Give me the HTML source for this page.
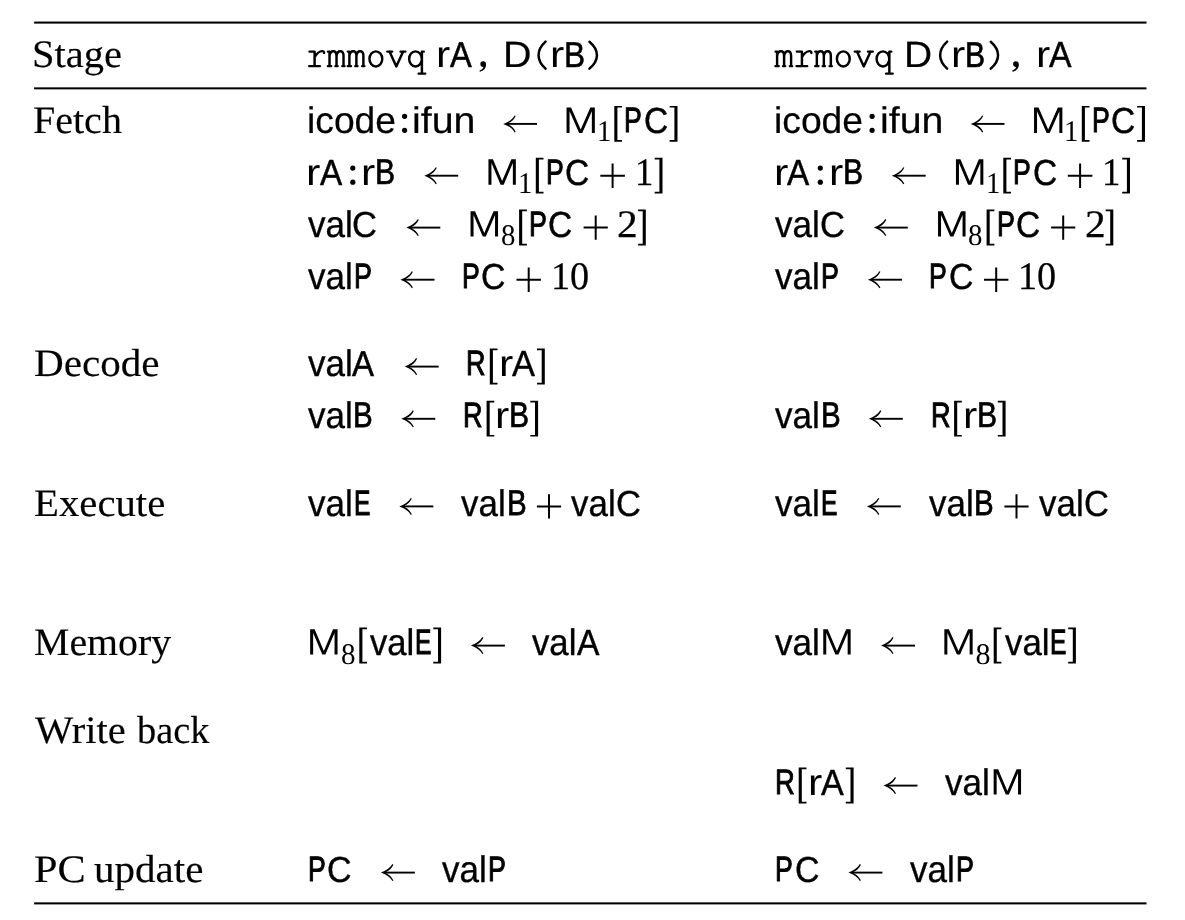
<!DOCTYPE html>
<html><head><meta charset="utf-8"><title>Table</title>
<style>
html,body{margin:0;padding:0;background:#fff;}
body{width:1185px;height:920px;position:relative;overflow:hidden;}
#w{position:absolute;left:0;top:0;width:1185px;height:920px;will-change:transform;text-rendering:geometricPrecision;}
.t{position:absolute;white-space:pre;color:#000;line-height:1;transform-origin:0 0;}
.S{font-family:"Liberation Serif",serif;font-size:39px;}
.A{font-family:"Liberation Sans",sans-serif;font-size:37px;}
.M{font-family:"Liberation Mono",monospace;font-size:33px;}
.D{font-family:"Liberation Serif",serif;font-size:39px;}
.U{font-family:"Liberation Serif",serif;font-size:30px;}
svg{position:absolute;left:0;top:0;}
</style></head><body><div id="w">

<span class="t S" style="left:32.18px;top:35px;transform:scaleX(1.0374);-webkit-text-stroke:0.15px #000">Stage</span>
<span class="t S" style="left:33.35px;top:101px;transform:scaleX(1.0258);-webkit-text-stroke:0.15px #000">Fetch</span>
<span class="t S" style="left:33.72px;top:344px;transform:scaleX(1.0547);-webkit-text-stroke:0.15px #000">Decode</span>
<span class="t S" style="left:33.73px;top:484px;transform:scaleX(1.0454);-webkit-text-stroke:0.15px #000">Execute</span>
<span class="t S" style="left:33.76px;top:623px;transform:scaleX(1.0210);-webkit-text-stroke:0.15px #000">Memory</span>
<span class="t S" style="left:35.08px;top:711px;transform:scaleX(1.0400);-webkit-text-stroke:0.15px #000">Write</span>
<span class="t S" style="left:137.47px;top:711px;transform:scaleX(0.9838);-webkit-text-stroke:0.15px #000">back</span>
<span class="t S" style="left:33.7px;top:850px;transform:scaleX(1.0840);-webkit-text-stroke:0.15px #000">PC</span>
<span class="t S" style="left:93.55px;top:850px;transform:scaleX(1.0527);-webkit-text-stroke:0.15px #000">update</span>
<span class="t A" style="left:436.11px;top:36px;transform:scaleX(1.1568)">r</span>
<span class="t A" style="left:450.23px;top:36.75px;transform:scale(0.8822,0.9758);-webkit-text-stroke:0.53px #000">A</span>
<span class="t A" style="left:502.6px;top:36.35px;transform:scale(1.0676,0.9886);-webkit-text-stroke:0.20px #000">D</span>
<span class="t A" style="left:549.61px;top:36px;transform:scaleX(1.1568)">r</span>
<span class="t A" style="left:563.69px;top:36.84px;transform:scale(0.8550,0.9729);-webkit-text-stroke:0.60px #000">B</span>
<span class="t A" style="left:903.84px;top:36.35px;transform:scale(1.0541,0.9886);-webkit-text-stroke:0.20px #000">D</span>
<span class="t A" style="left:951.21px;top:36px;transform:scaleX(1.1568)">r</span>
<span class="t A" style="left:964.96px;top:37.01px;transform:scale(0.8149,0.9673);-webkit-text-stroke:0.74px #000">B</span>
<span class="t A" style="left:1035.61px;top:36px;transform:scaleX(1.1568)">r</span>
<span class="t A" style="left:1049.39px;top:36.63px;transform:scale(0.9136,0.9798);-webkit-text-stroke:0.43px #000">A</span>
<span class="t A" style="left:306.59px;top:102px;transform:scaleX(1.0059);-webkit-text-stroke:0.20px #000">icode</span>
<span class="t A" style="left:412.45px;top:102px;transform:scaleX(1.0628);-webkit-text-stroke:0.20px #000">ifun</span>
<span class="t U" style="left:596.9px;top:117px;transform:scaleX(0.9581)">1</span>
<span class="t A" style="left:624.24px;top:102.45px;transform:scale(0.7194,0.9533);-webkit-text-stroke:1.10px #000">P</span>
<span class="t A" style="left:643.82px;top:102.65px;transform:scale(0.9062,0.979);-webkit-text-stroke:0.45px #000">C</span>
<span class="t A" style="left:306.08px;top:154px;transform:scaleX(1.1676)">r</span>
<span class="t A" style="left:319.71px;top:154.68px;transform:scale(0.9001,0.9781);-webkit-text-stroke:0.47px #000">A</span>
<span class="t A" style="left:361.41px;top:154px;transform:scaleX(1.1568)">r</span>
<span class="t A" style="left:375.36px;top:154.01px;transform:scale(0.8149,0.9673);-webkit-text-stroke:0.74px #000">B</span>
<span class="t U" style="left:518.4px;top:169px;transform:scaleX(0.9581)">1</span>
<span class="t A" style="left:545.74px;top:154.45px;transform:scale(0.7194,0.9533);-webkit-text-stroke:1.10px #000">P</span>
<span class="t A" style="left:565.32px;top:154.65px;transform:scale(0.9062,0.979);-webkit-text-stroke:0.45px #000">C</span>
<span class="t D" style="left:634.76px;top:153px;transform:scaleX(0.9404);-webkit-text-stroke:0.25px #000">1</span>
<span class="t A" style="left:307.56px;top:206px;transform:scaleX(0.9461);-webkit-text-stroke:0.35px #000">val</span>
<span class="t A" style="left:352.13px;top:206.55px;transform:scale(0.9346,0.9824);-webkit-text-stroke:0.36px #000">C</span>
<span class="t U" style="left:500.64px;top:221px;transform:scaleX(0.9615)">8</span>
<span class="t A" style="left:529.03px;top:206.45px;transform:scale(0.7242,0.9533);-webkit-text-stroke:1.10px #000">P</span>
<span class="t A" style="left:548.32px;top:206.65px;transform:scale(0.9062,0.979);-webkit-text-stroke:0.45px #000">C</span>
<span class="t D" style="left:617.37px;top:205px;transform:scaleX(1.0625);-webkit-text-stroke:0.25px #000">2</span>
<span class="t A" style="left:307.56px;top:258px;transform:scaleX(0.9461);-webkit-text-stroke:0.35px #000">val</span>
<span class="t A" style="left:353.53px;top:258.45px;transform:scale(0.7242,0.9533);-webkit-text-stroke:1.10px #000">P</span>
<span class="t A" style="left:461.94px;top:258.45px;transform:scale(0.7194,0.9533);-webkit-text-stroke:1.10px #000">P</span>
<span class="t A" style="left:481.29px;top:258.62px;transform:scale(0.9157,0.9801);-webkit-text-stroke:0.42px #000">C</span>
<span class="t D" style="left:550.84px;top:257px;transform:scaleX(0.9797);-webkit-text-stroke:0.25px #000">10</span>
<span class="t A" style="left:307.56px;top:397px;transform:scaleX(0.9461);-webkit-text-stroke:0.35px #000">val</span>
<span class="t A" style="left:353.23px;top:397.09px;transform:scale(0.7978,0.9648);-webkit-text-stroke:0.81px #000">B</span>
<span class="t A" style="left:463.21px;top:397.44px;transform:scale(0.7317,0.9535);-webkit-text-stroke:1.10px #000">R</span>
<span class="t A" style="left:495.01px;top:397px;transform:scaleX(1.1568)">r</span>
<span class="t A" style="left:509.16px;top:397.01px;transform:scale(0.8149,0.9673);-webkit-text-stroke:0.74px #000">B</span>
<span class="t A" style="left:307.56px;top:485px;transform:scaleX(0.9461);-webkit-text-stroke:0.35px #000">val</span>
<span class="t A" style="left:353.67px;top:485.45px;transform:scale(0.6651,0.9533);-webkit-text-stroke:1.10px #000">E</span>
<span class="t A" style="left:461.17px;top:485px;transform:scaleX(0.9437);-webkit-text-stroke:0.35px #000">val</span>
<span class="t A" style="left:506.53px;top:485.09px;transform:scale(0.7978,0.9648);-webkit-text-stroke:0.81px #000">B</span>
<span class="t A" style="left:571.47px;top:485px;transform:scaleX(0.9437);-webkit-text-stroke:0.35px #000">val</span>
<span class="t A" style="left:616.23px;top:485.55px;transform:scale(0.9346,0.9824);-webkit-text-stroke:0.36px #000">C</span>
<span class="t A" style="left:307.94px;top:851.45px;transform:scale(0.7194,0.9533);-webkit-text-stroke:1.10px #000">P</span>
<span class="t A" style="left:327.17px;top:851.6px;transform:scale(0.9204,0.9807);-webkit-text-stroke:0.40px #000">C</span>
<span class="t A" style="left:442.36px;top:851px;transform:scaleX(0.9461);-webkit-text-stroke:0.35px #000">val</span>
<span class="t A" style="left:488.33px;top:851.45px;transform:scale(0.7242,0.9533);-webkit-text-stroke:1.10px #000">P</span>
<span class="t A" style="left:774.09px;top:102px;transform:scaleX(1.0059);-webkit-text-stroke:0.20px #000">icode</span>
<span class="t A" style="left:879.95px;top:102px;transform:scaleX(1.0628);-webkit-text-stroke:0.20px #000">ifun</span>
<span class="t U" style="left:1064.4px;top:117px;transform:scaleX(0.9581)">1</span>
<span class="t A" style="left:1091.74px;top:102.45px;transform:scale(0.7194,0.9533);-webkit-text-stroke:1.10px #000">P</span>
<span class="t A" style="left:1111.32px;top:102.65px;transform:scale(0.9062,0.979);-webkit-text-stroke:0.45px #000">C</span>
<span class="t A" style="left:773.58px;top:154px;transform:scaleX(1.1676)">r</span>
<span class="t A" style="left:787.21px;top:154.68px;transform:scale(0.9001,0.9781);-webkit-text-stroke:0.47px #000">A</span>
<span class="t A" style="left:828.91px;top:154px;transform:scaleX(1.1568)">r</span>
<span class="t A" style="left:842.86px;top:154.01px;transform:scale(0.8149,0.9673);-webkit-text-stroke:0.74px #000">B</span>
<span class="t U" style="left:985.9px;top:169px;transform:scaleX(0.9581)">1</span>
<span class="t A" style="left:1013.24px;top:154.45px;transform:scale(0.7194,0.9533);-webkit-text-stroke:1.10px #000">P</span>
<span class="t A" style="left:1032.82px;top:154.65px;transform:scale(0.9062,0.979);-webkit-text-stroke:0.45px #000">C</span>
<span class="t D" style="left:1102.26px;top:153px;transform:scaleX(0.9404);-webkit-text-stroke:0.25px #000">1</span>
<span class="t A" style="left:775.06px;top:206px;transform:scaleX(0.9461);-webkit-text-stroke:0.35px #000">val</span>
<span class="t A" style="left:819.63px;top:206.55px;transform:scale(0.9346,0.9824);-webkit-text-stroke:0.36px #000">C</span>
<span class="t U" style="left:968.14px;top:221px;transform:scaleX(0.9615)">8</span>
<span class="t A" style="left:996.53px;top:206.45px;transform:scale(0.7242,0.9533);-webkit-text-stroke:1.10px #000">P</span>
<span class="t A" style="left:1015.82px;top:206.65px;transform:scale(0.9062,0.979);-webkit-text-stroke:0.45px #000">C</span>
<span class="t D" style="left:1084.87px;top:205px;transform:scaleX(1.0625);-webkit-text-stroke:0.25px #000">2</span>
<span class="t A" style="left:775.06px;top:258px;transform:scaleX(0.9461);-webkit-text-stroke:0.35px #000">val</span>
<span class="t A" style="left:821.03px;top:258.45px;transform:scale(0.7242,0.9533);-webkit-text-stroke:1.10px #000">P</span>
<span class="t A" style="left:929.44px;top:258.45px;transform:scale(0.7194,0.9533);-webkit-text-stroke:1.10px #000">P</span>
<span class="t A" style="left:948.79px;top:258.62px;transform:scale(0.9157,0.9801);-webkit-text-stroke:0.42px #000">C</span>
<span class="t D" style="left:1018.34px;top:257px;transform:scaleX(0.9797);-webkit-text-stroke:0.25px #000">10</span>
<span class="t A" style="left:775.06px;top:397px;transform:scaleX(0.9461);-webkit-text-stroke:0.35px #000">val</span>
<span class="t A" style="left:820.73px;top:397.09px;transform:scale(0.7978,0.9648);-webkit-text-stroke:0.81px #000">B</span>
<span class="t A" style="left:930.71px;top:397.44px;transform:scale(0.7317,0.9535);-webkit-text-stroke:1.10px #000">R</span>
<span class="t A" style="left:962.51px;top:397px;transform:scaleX(1.1568)">r</span>
<span class="t A" style="left:976.66px;top:397.01px;transform:scale(0.8149,0.9673);-webkit-text-stroke:0.74px #000">B</span>
<span class="t A" style="left:775.06px;top:485px;transform:scaleX(0.9461);-webkit-text-stroke:0.35px #000">val</span>
<span class="t A" style="left:821.17px;top:485.45px;transform:scale(0.6651,0.9533);-webkit-text-stroke:1.10px #000">E</span>
<span class="t A" style="left:928.67px;top:485px;transform:scaleX(0.9437);-webkit-text-stroke:0.35px #000">val</span>
<span class="t A" style="left:974.03px;top:485.09px;transform:scale(0.7978,0.9648);-webkit-text-stroke:0.81px #000">B</span>
<span class="t A" style="left:1038.97px;top:485px;transform:scaleX(0.9437);-webkit-text-stroke:0.35px #000">val</span>
<span class="t A" style="left:1083.73px;top:485.55px;transform:scale(0.9346,0.9824);-webkit-text-stroke:0.36px #000">C</span>
<span class="t A" style="left:775.44px;top:851.45px;transform:scale(0.7194,0.9533);-webkit-text-stroke:1.10px #000">P</span>
<span class="t A" style="left:794.67px;top:851.6px;transform:scale(0.9204,0.9807);-webkit-text-stroke:0.40px #000">C</span>
<span class="t A" style="left:909.86px;top:851px;transform:scaleX(0.9461);-webkit-text-stroke:0.35px #000">val</span>
<span class="t A" style="left:955.83px;top:851.45px;transform:scale(0.7242,0.9533);-webkit-text-stroke:1.10px #000">P</span>
<span class="t A" style="left:307.56px;top:345px;transform:scaleX(0.9461);-webkit-text-stroke:0.35px #000">val</span>
<span class="t A" style="left:352.22px;top:345.71px;transform:scale(0.8912,0.977);-webkit-text-stroke:0.50px #000">A</span>
<span class="t A" style="left:466.22px;top:345.45px;transform:scale(0.7273,0.9533);-webkit-text-stroke:1.10px #000">R</span>
<span class="t A" style="left:498.71px;top:345px;transform:scaleX(1.1568)">r</span>
<span class="t A" style="left:511.77px;top:345.56px;transform:scale(0.9315,0.9819);-webkit-text-stroke:0.37px #000">A</span>
<span class="t U" style="left:340.93px;top:640px;transform:scaleX(0.9692)">8</span>
<span class="t A" style="left:370.18px;top:624px;transform:scaleX(0.9366);-webkit-text-stroke:0.37px #000">val</span>
<span class="t A" style="left:415.17px;top:624.45px;transform:scale(0.6651,0.9533);-webkit-text-stroke:1.10px #000">E</span>
<span class="t A" style="left:532.37px;top:624px;transform:scaleX(0.9390);-webkit-text-stroke:0.37px #000">val</span>
<span class="t A" style="left:577px;top:624.64px;transform:scale(0.9091,0.9792);-webkit-text-stroke:0.44px #000">A</span>
<span class="t A" style="left:775.06px;top:624px;transform:scaleX(0.9461);-webkit-text-stroke:0.35px #000">val</span>
<span class="t U" style="left:975.5px;top:640px;transform:scaleX(1.0000)">8</span>
<span class="t A" style="left:1005.07px;top:624px;transform:scaleX(0.9414);-webkit-text-stroke:0.36px #000">val</span>
<span class="t A" style="left:1050.37px;top:624.45px;transform:scale(0.6651,0.9533);-webkit-text-stroke:1.10px #000">E</span>
<span class="t A" style="left:775.16px;top:764.39px;transform:scale(0.7418,0.9552);-webkit-text-stroke:1.05px #000">R</span>
<span class="t A" style="left:807.51px;top:764px;transform:scaleX(1.1568)">r</span>
<span class="t A" style="left:820.68px;top:764.6px;transform:scale(0.9225,0.9808);-webkit-text-stroke:0.40px #000">A</span>
<span class="t A" style="left:945.46px;top:764px;transform:scaleX(0.9461);-webkit-text-stroke:0.35px #000">val</span>
<svg width="1185" height="920" viewBox="0 0 1185 920">
<rect x="34.1" y="21.55" width="1112.4" height="2.05" fill="#000"/>
<rect x="34.1" y="87.35" width="1112.4" height="2" fill="#000"/>
<rect x="34.1" y="902.35" width="1112.4" height="2.05" fill="#000"/>
<g stroke="#000" fill="none">
<path d="M506.2,123.9 H537" stroke-width="1.9"/>
<path stroke="none" fill="#000" d="M503.2,123.9 C508.2,122.3 512.5,119.3 514.7,115.4 L515.7,116 C513.9,119.7 511.4,121.9 508.7,122.95 L508.7,124.85 C511.4,125.9 513.9,128.1 515.7,131.8 L514.7,132.4 C512.5,128.5 508.2,125.5 503.2,123.9 Z"/>
<path d="M427.3,175.7 H458.2" stroke-width="1.9"/>
<path stroke="none" fill="#000" d="M424.3,175.7 C429.3,174.1 433.6,171.1 435.8,167.2 L436.8,167.8 C435,171.5 432.5,173.7 429.8,174.75 L429.8,176.65 C432.5,177.7 435,179.9 436.8,183.6 L435.8,184.2 C433.6,180.3 429.3,177.3 424.3,175.7 Z"/>
<path d="M409.3,227.6 H440.3" stroke-width="1.9"/>
<path stroke="none" fill="#000" d="M406.3,227.6 C411.3,226 415.6,223 417.8,219.1 L418.8,219.7 C417,223.4 414.5,225.6 411.8,226.65 L411.8,228.55 C414.5,229.6 417,231.8 418.8,235.5 L417.8,236.1 C415.6,232.2 411.3,229.2 406.3,227.6 Z"/>
<path d="M403.4,279.7 H434.5" stroke-width="1.9"/>
<path stroke="none" fill="#000" d="M400.4,279.7 C405.4,278.1 409.7,275.1 411.9,271.2 L412.9,271.8 C411.1,275.5 408.6,277.7 405.9,278.75 L405.9,280.65 C408.6,281.7 411.1,283.9 412.9,287.6 L411.9,288.2 C409.7,284.3 405.4,281.3 400.4,279.7 Z"/>
<path d="M404.3,418.8 H435.3" stroke-width="1.9"/>
<path stroke="none" fill="#000" d="M401.3,418.8 C406.3,417.2 410.6,414.2 412.8,410.3 L413.8,410.9 C412,414.6 409.5,416.8 406.8,417.85 L406.8,419.75 C409.5,420.8 412,423 413.8,426.7 L412.8,427.3 C410.6,423.4 406.3,420.4 401.3,418.8 Z"/>
<path d="M402.3,506.4 H433.3" stroke-width="1.9"/>
<path stroke="none" fill="#000" d="M399.3,506.4 C404.3,504.8 408.6,501.8 410.8,497.9 L411.8,498.5 C410,502.2 407.5,504.4 404.8,505.45 L404.8,507.35 C407.5,508.4 410,510.6 411.8,514.3 L410.8,514.9 C408.6,511 404.3,508 399.3,506.4 Z"/>
<path d="M383.9,872.6 H414.9" stroke-width="1.9"/>
<path stroke="none" fill="#000" d="M380.9,872.6 C385.9,871 390.2,868 392.4,864.1 L393.4,864.7 C391.6,868.4 389.1,870.6 386.4,871.65 L386.4,873.55 C389.1,874.6 391.6,876.8 393.4,880.5 L392.4,881.1 C390.2,877.2 385.9,874.2 380.9,872.6 Z"/>
<path d="M973.7,123.9 H1004.5" stroke-width="1.9"/>
<path stroke="none" fill="#000" d="M970.7,123.9 C975.7,122.3 980,119.3 982.2,115.4 L983.2,116 C981.4,119.7 978.9,121.9 976.2,122.95 L976.2,124.85 C978.9,125.9 981.4,128.1 983.2,131.8 L982.2,132.4 C980,128.5 975.7,125.5 970.7,123.9 Z"/>
<path d="M894.8,175.7 H925.7" stroke-width="1.9"/>
<path stroke="none" fill="#000" d="M891.8,175.7 C896.8,174.1 901.1,171.1 903.3,167.2 L904.3,167.8 C902.5,171.5 900,173.7 897.3,174.75 L897.3,176.65 C900,177.7 902.5,179.9 904.3,183.6 L903.3,184.2 C901.1,180.3 896.8,177.3 891.8,175.7 Z"/>
<path d="M876.8,227.6 H907.8" stroke-width="1.9"/>
<path stroke="none" fill="#000" d="M873.8,227.6 C878.8,226 883.1,223 885.3,219.1 L886.3,219.7 C884.5,223.4 882,225.6 879.3,226.65 L879.3,228.55 C882,229.6 884.5,231.8 886.3,235.5 L885.3,236.1 C883.1,232.2 878.8,229.2 873.8,227.6 Z"/>
<path d="M870.9,279.7 H902" stroke-width="1.9"/>
<path stroke="none" fill="#000" d="M867.9,279.7 C872.9,278.1 877.2,275.1 879.4,271.2 L880.4,271.8 C878.6,275.5 876.1,277.7 873.4,278.75 L873.4,280.65 C876.1,281.7 878.6,283.9 880.4,287.6 L879.4,288.2 C877.2,284.3 872.9,281.3 867.9,279.7 Z"/>
<path d="M871.8,418.8 H902.8" stroke-width="1.9"/>
<path stroke="none" fill="#000" d="M868.8,418.8 C873.8,417.2 878.1,414.2 880.3,410.3 L881.3,410.9 C879.5,414.6 877,416.8 874.3,417.85 L874.3,419.75 C877,420.8 879.5,423 881.3,426.7 L880.3,427.3 C878.1,423.4 873.8,420.4 868.8,418.8 Z"/>
<path d="M869.8,506.4 H900.8" stroke-width="1.9"/>
<path stroke="none" fill="#000" d="M866.8,506.4 C871.8,504.8 876.1,501.8 878.3,497.9 L879.3,498.5 C877.5,502.2 875,504.4 872.3,505.45 L872.3,507.35 C875,508.4 877.5,510.6 879.3,514.3 L878.3,514.9 C876.1,511 871.8,508 866.8,506.4 Z"/>
<path d="M851.4,872.6 H882.4" stroke-width="1.9"/>
<path stroke="none" fill="#000" d="M848.4,872.6 C853.4,871 857.7,868 859.9,864.1 L860.9,864.7 C859.1,868.4 856.6,870.6 853.9,871.65 L853.9,873.55 C856.6,874.6 859.1,876.8 860.9,880.5 L859.9,881.1 C857.7,877.2 853.4,874.2 848.4,872.6 Z"/>
<path d="M407.6,366.6 H438.7" stroke-width="1.9"/>
<path stroke="none" fill="#000" d="M404.6,366.6 C409.6,365 413.9,362 416.1,358.1 L417.1,358.7 C415.3,362.4 412.8,364.6 410.1,365.65 L410.1,367.55 C412.8,368.6 415.3,370.8 417.1,374.5 L416.1,375.1 C413.9,371.2 409.6,368.2 404.6,366.6 Z"/>
<path d="M473.9,645.6 H504.9" stroke-width="1.9"/>
<path stroke="none" fill="#000" d="M470.9,645.6 C475.9,644 480.2,641 482.4,637.1 L483.4,637.7 C481.6,641.4 479.1,643.6 476.4,644.65 L476.4,646.55 C479.1,647.6 481.6,649.8 483.4,653.5 L482.4,654.1 C480.2,650.2 475.9,647.2 470.9,645.6 Z"/>
<path d="M884,645.6 H915" stroke-width="1.9"/>
<path stroke="none" fill="#000" d="M881,645.6 C886,644 890.3,641 892.5,637.1 L893.5,637.7 C891.7,641.4 889.2,643.6 886.5,644.65 L886.5,646.55 C889.2,647.6 891.7,649.8 893.5,653.5 L892.5,654.1 C890.3,650.2 886,647.2 881,645.6 Z"/>
<path d="M886.5,785.6 H917.5" stroke-width="1.9"/>
<path stroke="none" fill="#000" d="M883.5,785.6 C888.5,784 892.8,781 895,777.1 L896,777.7 C894.2,781.4 891.7,783.6 889,784.65 L889,786.55 C891.7,787.6 894.2,789.8 896,793.5 L895,794.1 C892.8,790.2 888.5,787.2 883.5,785.6 Z"/>
<path d="M600.3,175.7 H624.9 M612.6,163.5 V187.9" stroke-width="2"/>
<path d="M583.6,227.6 H607.8 M595.7,215.4 V239.8" stroke-width="2"/>
<path d="M516.5,279.7 H540.9 M528.7,267.5 V291.9" stroke-width="2"/>
<path d="M536.9,506.4 H561.1 M549,494.2 V518.6" stroke-width="2"/>
<path d="M1067.8,175.7 H1092.4 M1080.1,163.5 V187.9" stroke-width="2"/>
<path d="M1051.1,227.6 H1075.3 M1063.2,215.4 V239.8" stroke-width="2"/>
<path d="M984,279.7 H1008.4 M996.2,267.5 V291.9" stroke-width="2"/>
<path d="M1004.4,506.4 H1028.6 M1016.5,494.2 V518.6" stroke-width="2"/>
<path d="M545.55,41.7 C536.22,50.2 536.22,60.1 545.55,68.6" stroke-width="2.5" stroke-linecap="round"/>
<path d="M589.45,41.7 C599.45,50.2 599.45,60.1 589.45,68.6" stroke-width="2.5" stroke-linecap="round"/>
<path d="M947.15,41.7 C937.82,50.2 937.82,60.1 947.15,68.6" stroke-width="2.5" stroke-linecap="round"/>
<path d="M990.75,41.7 C1000.48,50.2 1000.48,60.1 990.75,68.6" stroke-width="2.5" stroke-linecap="round"/>
</g>
<g stroke="#000" fill="none" stroke-width="2.45" stroke-linecap="round" stroke-linejoin="round">
<path d="M309.25,66.1 H319.85 M309.55,51.6 H314.6 V66.1 M314.6,57.2 C316.95,53.2 319.95,51.1 322.25,51.1 C323.45,51.1 324.15,51.8 324.05,52.9"/>
<path d="M328.02,51.6 H329.52 V66.1 M327.92,66.1 H331.12 M335.42,66.1 H337.62 M342.32,66.1 H344.52 M329.52,55.8 C329.92,52.8 331.52,51.2 333.22,51.2 C335.32,51.2 336.52,52.8 336.52,55.8 V66.1 M336.52,55.8 C336.92,52.8 338.52,51.2 340.22,51.2 C342.32,51.2 343.52,52.8 343.52,55.8 V66.1"/>
<path d="M347.89,51.6 H349.39 V66.1 M347.79,66.1 H350.99 M355.29,66.1 H357.49 M362.19,66.1 H364.39 M349.39,55.8 C349.79,52.8 351.39,51.2 353.09,51.2 C355.19,51.2 356.39,52.8 356.39,55.8 V66.1 M356.39,55.8 C356.79,52.8 358.39,51.2 360.09,51.2 C362.19,51.2 363.39,52.8 363.39,55.8 V66.1"/>
<path d="M369.46,58.9 a6.4,7.55 0 1,0 12.8,0 a6.4,7.55 0 1,0 -12.8,0"/>
<path d="M387.33,51.6 H392.13 M400.53,51.6 H405.33 M389.53,51.6 L396.33,66.4 L403.13,51.6"/>
<path d="M409.15,58.9 a6.35,7.55 0 1,0 12.7,0 a6.35,7.55 0 1,0 -12.7,0 M423.8,51.6 H421.9 V73.6 M418.6,73.6 H425.2"/>
<path d="M775.6,51.6 H777.1 V66.1 M775.5,66.1 H778.7 M783,66.1 H785.2 M789.9,66.1 H792.1 M777.1,55.8 C777.5,52.8 779.1,51.2 780.8,51.2 C782.9,51.2 784.1,52.8 784.1,55.8 V66.1 M784.1,55.8 C784.5,52.8 786.1,51.2 787.8,51.2 C789.9,51.2 791.1,52.8 791.1,55.8 V66.1"/>
<path d="M796.57,66.1 H807.17 M796.87,51.6 H801.92 V66.1 M801.92,57.2 C804.27,53.2 807.27,51.1 809.57,51.1 C810.77,51.1 811.47,51.8 811.37,52.9"/>
<path d="M815.34,51.6 H816.84 V66.1 M815.24,66.1 H818.44 M822.74,66.1 H824.94 M829.64,66.1 H831.84 M816.84,55.8 C817.24,52.8 818.84,51.2 820.54,51.2 C822.64,51.2 823.84,52.8 823.84,55.8 V66.1 M823.84,55.8 C824.24,52.8 825.84,51.2 827.54,51.2 C829.64,51.2 830.84,52.8 830.84,55.8 V66.1"/>
<path d="M836.91,58.9 a6.4,7.55 0 1,0 12.8,0 a6.4,7.55 0 1,0 -12.8,0"/>
<path d="M854.78,51.6 H859.58 M867.98,51.6 H872.78 M856.98,51.6 L863.78,66.4 L870.58,51.6"/>
<path d="M876.6,58.9 a6.35,7.55 0 1,0 12.7,0 a6.35,7.55 0 1,0 -12.7,0 M891.25,51.6 H889.35 V73.6 M886.05,73.6 H892.65"/>
</g>
<g fill="#000">
<circle cx="404.6" cy="116.3" r="2.6"/><circle cx="404.6" cy="130.35" r="2.6"/>
<circle cx="352.8" cy="168.1" r="2.6"/><circle cx="352.8" cy="182.15" r="2.6"/>
<circle cx="872.1" cy="116.3" r="2.6"/><circle cx="872.1" cy="130.35" r="2.6"/>
<circle cx="820.3" cy="168.1" r="2.6"/><circle cx="820.3" cy="182.15" r="2.6"/>
<path d="M566.55,132.9 L566.55,107.5 L571.05,107.5 L580.7,129.38 L590.35,107.5 L594.85,107.5 L594.85,132.9 L591.85,132.9 L591.85,111.13 L582.25,132.9 L579.15,132.9 L569.55,111.13 L569.55,132.9 Z"/>
<path d="M488.45,184.7 L488.45,159.3 L492.95,159.3 L502.15,181.04 L511.35,159.3 L515.85,159.3 L515.85,184.7 L512.85,184.7 L512.85,163.08 L503.7,184.7 L500.6,184.7 L491.45,163.08 L491.45,184.7 Z"/>
<path d="M470.55,236.6 L470.55,211.2 L475.05,211.2 L484.3,232.95 L493.55,211.2 L498.05,211.2 L498.05,236.6 L495.05,236.6 L495.05,214.96 L485.85,236.6 L482.75,236.6 L473.55,214.96 L473.55,236.6 Z"/>
<path d="M1034.05,132.9 L1034.05,107.5 L1038.55,107.5 L1048.2,129.38 L1057.85,107.5 L1062.35,107.5 L1062.35,132.9 L1059.35,132.9 L1059.35,111.13 L1049.75,132.9 L1046.65,132.9 L1037.05,111.13 L1037.05,132.9 Z"/>
<path d="M955.95,184.7 L955.95,159.3 L960.45,159.3 L969.65,181.04 L978.85,159.3 L983.35,159.3 L983.35,184.7 L980.35,184.7 L980.35,163.08 L971.2,184.7 L968.1,184.7 L958.95,163.08 L958.95,184.7 Z"/>
<path d="M938.05,236.6 L938.05,211.2 L942.55,211.2 L951.8,232.95 L961.05,211.2 L965.55,211.2 L965.55,236.6 L962.55,236.6 L962.55,214.96 L953.35,236.6 L950.25,236.6 L941.05,214.96 L941.05,236.6 Z"/>
<path d="M310.15,654.6 L310.15,629.2 L314.65,629.2 L323.85,650.94 L333.05,629.2 L337.55,629.2 L337.55,654.6 L334.55,654.6 L334.55,632.98 L325.4,654.6 L322.3,654.6 L313.15,632.98 L313.15,654.6 Z"/>
<path d="M823.25,654.6 L823.25,629.2 L827.75,629.2 L836.95,650.94 L846.15,629.2 L850.65,629.2 L850.65,654.6 L847.65,654.6 L847.65,632.98 L838.5,654.6 L835.4,654.6 L826.25,632.98 L826.25,654.6 Z"/>
<path d="M944.35,654.6 L944.35,629.2 L948.85,629.2 L958.5,651.08 L968.15,629.2 L972.65,629.2 L972.65,654.6 L969.65,654.6 L969.65,632.83 L960.05,654.6 L956.95,654.6 L947.35,632.83 L947.35,654.6 Z"/>
<path d="M993.65,794.6 L993.65,769.2 L998.15,769.2 L1007.35,790.94 L1016.55,769.2 L1021.05,769.2 L1021.05,794.6 L1018.05,794.6 L1018.05,772.98 L1008.9,794.6 L1005.8,794.6 L996.65,772.98 L996.65,794.6 Z"/>
<circle cx="483.15" cy="64.1" r="2.8"/>
<path d="M485.95,63.8 C486.45,68.1 483.75,70.9 479.85,71.8 L479.45,70.6 C482.15,69.6 483.65,68.1 483.35,66.1 Z"/>
<circle cx="1015.9" cy="64.1" r="2.8"/>
<path d="M1018.7,63.8 C1019.2,68.1 1016.5,70.9 1012.6,71.8 L1012.2,70.6 C1014.9,69.6 1016.4,68.1 1016.1,66.1 Z"/>
<path d="M614.3,105.9 H622 V107.6 H617.4 V140 H622 V141.7 H614.3 Z"/>
<path d="M677.5,105.9 H669.6 V107.6 H674.4 V140 H669.6 V141.7 H677.5 Z"/>
<path d="M535.8,157.7 H543.5 V159.4 H538.9 V191.8 H543.5 V193.5 H535.8 Z"/>
<path d="M662.5,157.7 H654.7 V159.4 H659.4 V191.8 H654.7 V193.5 H662.5 Z"/>
<path d="M519.1,209.6 H526.9 V211.3 H522.2 V243.7 H526.9 V245.4 H519.1 Z"/>
<path d="M645.8,209.6 H638.1 V211.3 H642.7 V243.7 H638.1 V245.4 H645.8 Z"/>
<path d="M486.6,400.8 H494.3 V402.5 H489.7 V434.9 H494.3 V436.6 H486.6 Z"/>
<path d="M538.1,400.8 H530.3 V402.5 H535 V434.9 H530.3 V436.6 H538.1 Z"/>
<path d="M1081.8,105.9 H1089.5 V107.6 H1084.9 V140 H1089.5 V141.7 H1081.8 Z"/>
<path d="M1145,105.9 H1137.1 V107.6 H1141.9 V140 H1137.1 V141.7 H1145 Z"/>
<path d="M1003.3,157.7 H1011 V159.4 H1006.4 V191.8 H1011 V193.5 H1003.3 Z"/>
<path d="M1130,157.7 H1122.2 V159.4 H1126.9 V191.8 H1122.2 V193.5 H1130 Z"/>
<path d="M986.6,209.6 H994.4 V211.3 H989.7 V243.7 H994.4 V245.4 H986.6 Z"/>
<path d="M1113.3,209.6 H1105.6 V211.3 H1110.2 V243.7 H1105.6 V245.4 H1113.3 Z"/>
<path d="M954.1,400.8 H961.8 V402.5 H957.2 V434.9 H961.8 V436.6 H954.1 Z"/>
<path d="M1005.6,400.8 H997.8 V402.5 H1002.5 V434.9 H997.8 V436.6 H1005.6 Z"/>
<path d="M489.8,348.6 H497.5 V350.3 H492.9 V382.7 H497.5 V384.4 H489.8 Z"/>
<path d="M544.8,348.6 H537 V350.3 H541.7 V382.7 H537 V384.4 H544.8 Z"/>
<path d="M359.3,627.6 H367 V629.3 H362.4 V661.7 H367 V663.4 H359.3 Z"/>
<path d="M441.1,627.6 H433.3 V629.3 H438 V661.7 H433.3 V663.4 H441.1 Z"/>
<path d="M993.7,627.6 H1001.4 V629.3 H996.8 V661.7 H1001.4 V663.4 H993.7 Z"/>
<path d="M1075.9,627.6 H1068.2 V629.3 H1072.8 V661.7 H1068.2 V663.4 H1075.9 Z"/>
<path d="M798.7,767.6 H806.5 V769.3 H801.8 V801.7 H806.5 V803.4 H798.7 Z"/>
<path d="M853.6,767.6 H845.8 V769.3 H850.5 V801.7 H845.8 V803.4 H853.6 Z"/>
</g>
</svg>
</div></body></html>
